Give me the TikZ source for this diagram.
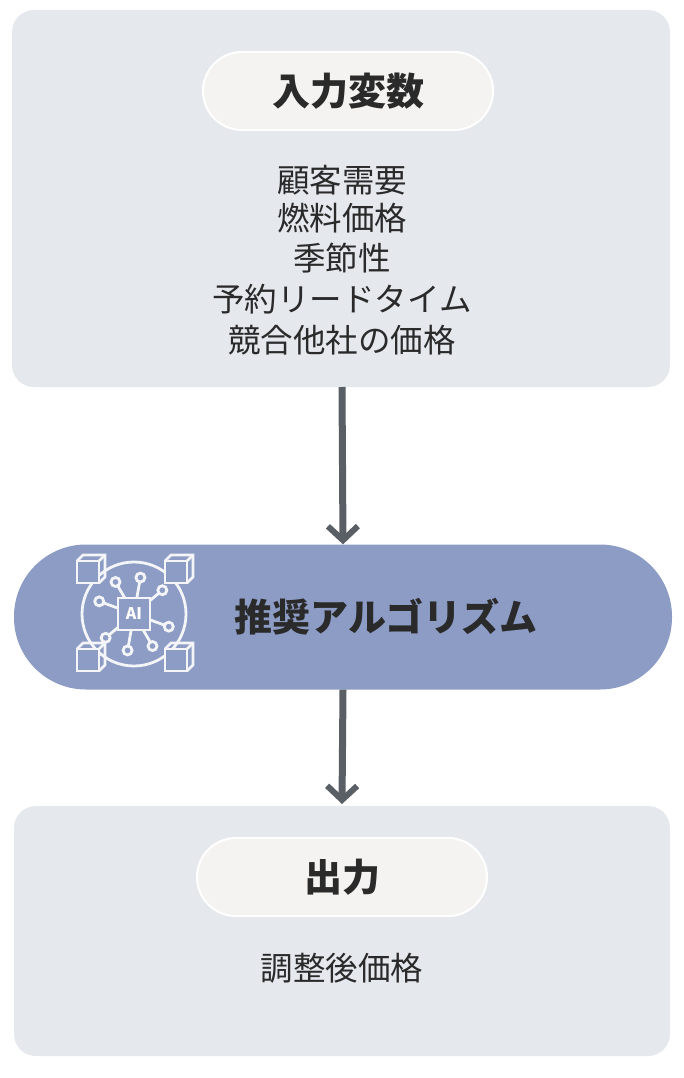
\documentclass[tikz,border=0pt]{standalone}
\usepackage{fontspec}
\setmainfont{Noto Sans CJK JP}
\usetikzlibrary{arrows.meta}
\definecolor{boxbg}{HTML}{E5E8ED}
\definecolor{pillbg}{HTML}{F4F3F1}
\definecolor{algo}{HTML}{8C9CC4}
\definecolor{arr}{HTML}{5A5F66}
\definecolor{txt}{HTML}{2A2A2A}
\tikzset{
 box/.style={fill=boxbg,draw=none,rounded corners=22pt},
 pill/.style={fill=pillbg,draw=white,line width=2pt,rounded corners=39pt,minimum width=290pt,minimum height=78pt,font=\fontsize{38}{44}\selectfont\bfseries,text=txt},
 item/.style={font=\fontsize{32.5}{38}\selectfont,text=txt},
 flow/.style={draw=arr,line width=7pt,-{Straight Barb[length=14pt,width=30pt,line width=6pt]}},
 ic/.style={draw=white!90!algo,line width=2.8pt},
}
\begin{document}
\begin{tikzpicture}[x=1pt,y=-1pt]
\useasboundingbox[fill=white] (0,0) rectangle (684,1078);
\path[box] (12,10) rectangle (670,387);
\node[pill] (in) at (348,91) {入力変数};
\node[item] at (342,180) {顧客需要};
\node[item] at (342,218) {燃料価格};
\node[item] at (342,258) {季節性};
\node[item] at (342,299) {予約リードタイム};
\node[item] at (342,340) {競合他社の価格};
\coordinate (tb) at (342,387);
\node[fill=algo,rounded corners=72pt,minimum width=658pt,minimum height=145pt,inner sep=0] (alg) at (343,617) {};
\node[font=\fontsize{38}{42}\selectfont\bfseries,text=txt] at (386,617) {推奨アルゴリズム};
\path[box] (14,806) rectangle (670,1056);
\node[pill] (out) at (342,877) {出力};
\node[item] at (342,968) {調整後価格};
\draw[flow] (tb) -- (alg.north);
\draw[flow] (alg.south) -- (342,804);
% icon
\begin{scope}[shift={(134,614)}]
\draw[ic] (0,0) circle (52);
\foreach \a in {20,60,100,140,200,240,280,320}{
 \draw[ic] (\a:16) -- (\a:32);
 \draw[ic,fill=algo] (\a:37) circle (4.5);}
\foreach \sx/\sy in {-1/-1,1/-1,-1/1,1/1}{
 \begin{scope}[shift={(\sx*44,\sy*44)}]
 \draw[ic,fill=algo] (-13,-9) rectangle (9,13);
 \draw[ic] (-13,-9) -- (-7,-15) -- (15,-15) -- (15,7) -- (9,13);
 \draw[ic] (9,-9) -- (15,-15);
 \end{scope}}
\draw[ic,fill=algo] (-16,-16) rectangle (16,16);
\node[text=white,font=\fontsize{16}{16}\selectfont\bfseries] at (0,0) {AI};
\end{scope}
\end{tikzpicture}
\end{document}
